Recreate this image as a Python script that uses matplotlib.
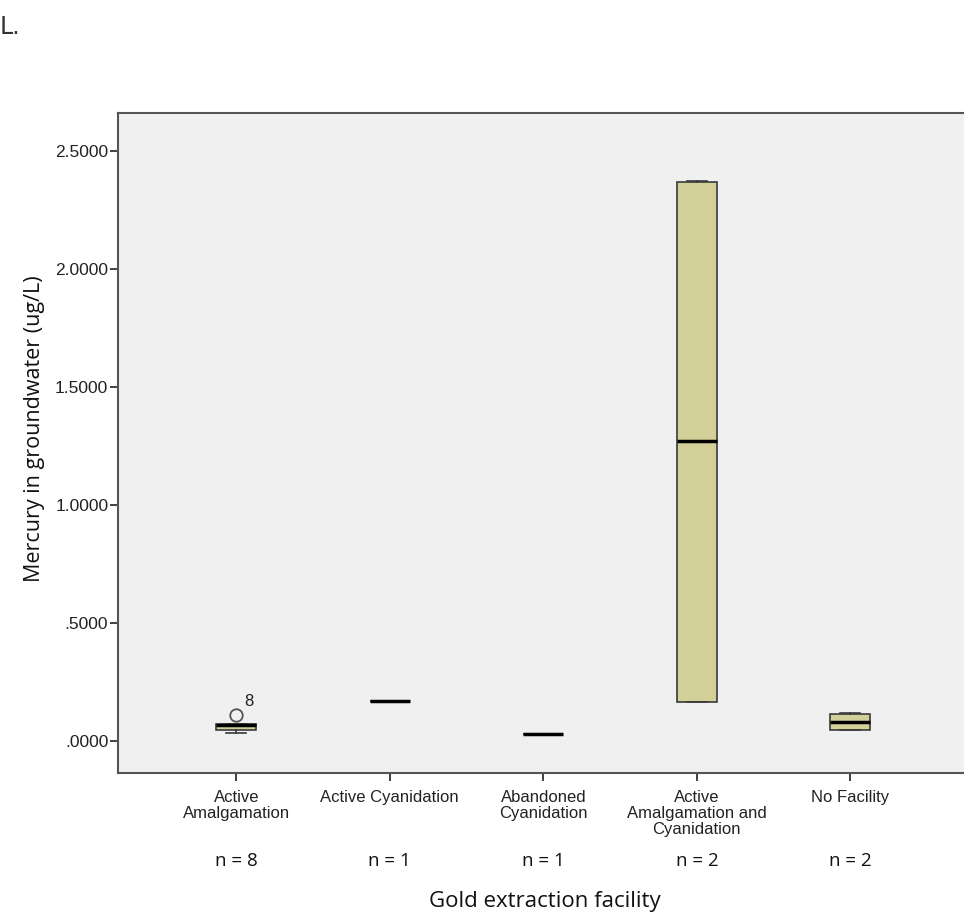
import numpy as np
import matplotlib.pyplot as plt
from matplotlib.ticker import FuncFormatter

# Box plot values (ug/L)
categories = ['Active\nAmalgamation', 'Active Cyanidation', 'Abandoned\nCyanidation',
              'Active\nAmalgamation and\nCyanidation', 'No Facility']
counts = [8, 1, 1, 2, 2]
q1 = [0.046, 0.168, 0.031, 0.166, 0.048]
med = [0.066, 0.168, 0.031, 1.270, 0.080]
q3 = [0.072, 0.168, 0.031, 2.370, 0.114]
whislo = [0.034, 0.168, 0.031, 0.166, 0.048]
whishi = [0.072, 0.168, 0.031, 2.372, 0.117]
fliers = [[0.112], [], [], [], []]
flier_ids = [['8'], [], [], [], []]

stats = []
for i in range(len(categories)):
    stats.append(dict(q1=q1[i], med=med[i], q3=q3[i], whislo=whislo[i],
                      whishi=whishi[i], fliers=fliers[i]))

W, H = 964, 914
fig = plt.figure(figsize=(W / 100, H / 100), dpi=100)
ax = fig.add_axes([118 / W, 1 - 773 / H, 846 / W, 660 / H])
ax.set_facecolor('#f0f0f0')

pos = np.arange(1, len(categories) + 1)
ax.bxp(stats, positions=pos, widths=0.26, patch_artist=True,
       boxprops=dict(facecolor='#d3cf98', edgecolor='#3a3a3a', linewidth=1.2),
       medianprops=dict(color='black', linewidth=2.5),
       whiskerprops=dict(color='#3a3a3a', linewidth=1.2),
       capprops=dict(color='#3a3a3a', linewidth=1.2),
       flierprops=dict(marker='o', markerfacecolor='none', markeredgecolor='#555555',
                       markersize=9, markeredgewidth=1.3),
       capwidths=0.13)

# outlier case labels
for i in range(len(categories)):
    for v, lab in zip(fliers[i], flier_ids[i]):
        ax.annotate(lab, (pos[i], v), xytext=(6, 6), textcoords='offset points',
                    fontsize=12, color='#222222', family='Liberation Sans')

ax.set_xlim(0.23, 5.74)
ax.set_ylim(-0.1356, 2.661)
ax.set_yticks([0, 0.5, 1.0, 1.5, 2.0, 2.5])
ax.yaxis.set_major_formatter(FuncFormatter(lambda v, p: ('%.4f' % v).lstrip('0') if v < 1 else '%.4f' % v))
ax.set_xticks(pos)
ax.set_xticklabels(categories, family='Liberation Sans', fontsize=12,
                   linespacing=1.1, va='top')
for t in ax.get_yticklabels():
    t.set_family('Liberation Sans')
    t.set_fontsize(12.5)
ax.tick_params(axis='both', length=6, width=1.3, color='#333333', labelcolor='#222222')
ax.tick_params(axis='y', pad=1)
ax.tick_params(axis='x', pad=6)

for s in ax.spines.values():
    s.set_color('#555555')
    s.set_linewidth(1.5)
ax.spines['right'].set_visible(False)

# sample sizes under each category
for i in range(len(categories)):
    xf = ax.transData.transform((pos[i], 0))[0] / W
    fig.text(xf, 1 - 861 / H, 'n = %d' % counts[i], ha='center', va='center',
             fontsize=13.5, family='Open Sans', color='#111111')

fig.text(35 / W, 1 - 429 / H, 'Mercury in groundwater (ug/L)', rotation=90,
         ha='center', va='center', fontsize=15.5, family='Open Sans', color='#111111')
fig.text(545 / W, 1 - 901 / H, 'Gold extraction facility', ha='center', va='center',
         fontsize=16, family='Open Sans', color='#111111')

fig.text(0.0, 1 - 27 / H, 'L.', ha='left', va='center', fontsize=17,
         family='DejaVu Sans', color='#333333')

plt.savefig('out.png', dpi=100)
